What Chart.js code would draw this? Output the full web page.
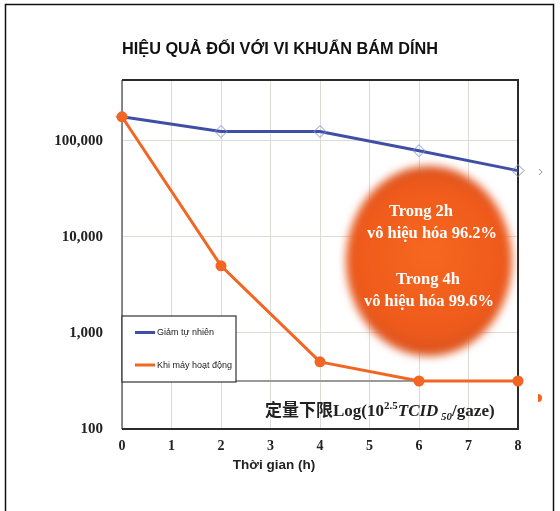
<!DOCTYPE html>
<html>
<head>
<meta charset="utf-8">
<script src="https://cdn.jsdelivr.net/npm/chart.js@4/dist/chart.umd.min.js"></script>
<style>
  html, body { margin: 0; padding: 0; background: #fff; }
  #wrap { width: 560px; height: 511px; position: relative; }
</style>
</head>
<body>
<div id="wrap"><canvas id="graphique"></canvas></div>
<script>
const hours = [0, 2, 4, 6, 8];
const giamTuNhien = [178000, 125000, 125000, 79000, 49000];
const khiMayHoatDong = [178000, 5000, 500, 316, 316];
const limitX = [0, 8];
const limitY = [316, 316];
const yTicks = [100, 1000, 10000, 100000];
const seriesLabels = ["Giảm tự nhiên", "Khi máy hoạt động"];
const titre = "HIỆU QUẢ ĐỐI VỚI VI KHUẨN BÁM DÍNH";
const bulle = ["Trong 2h", "vô hiệu hóa 96.2%", "", "Trong 4h", "vô hiệu hóa 99.6%"];

const BLEU = "#3f4fa6";
const ORANGE = "#f26522";
const serif = "'Liberation Serif', 'DejaVu Serif', serif";
const sans = "'Liberation Sans', Arial, sans-serif";

const toPoints = (xs, ys) => xs.map((x, i) => ({ x: x, y: ys[i] }));

const decor = {
  id: "decor",
  beforeDatasetsDraw(chart) {
    const { ctx, chartArea: a } = chart;
    ctx.save();
    // cadre du graphique
    ctx.lineWidth = 1.5;
    ctx.strokeStyle = "#666";
    ctx.beginPath(); ctx.moveTo(a.left, a.top); ctx.lineTo(a.left, a.bottom); ctx.stroke();
    ctx.lineWidth = 2;
    ctx.strokeStyle = "#2a2a2a";
    ctx.beginPath();
    ctx.moveTo(a.left, a.top); ctx.lineTo(a.right, a.top);
    ctx.lineTo(a.right, a.bottom); ctx.lineTo(a.left, a.bottom);
    ctx.stroke();
    ctx.restore();
  },
  afterDatasetsDraw(chart) {
    const { ctx, chartArea: a } = chart;
    ctx.save();

    // titre
    ctx.fillStyle = "#111";
    ctx.font = "bold 16.3px " + sans;
    ctx.textBaseline = "middle";
    ctx.textAlign = "left";
    ctx.fillText(titre, a.left, 50);

    // bulle orange
    const cx = 429, cy = 261, rx = 83, ry = 95;
    ctx.save();
    ctx.filter = "blur(4px)";
    const g = ctx.createRadialGradient(cx, cy - 10, 10, cx, cy, ry);
    g.addColorStop(0, "#f5661f");
    g.addColorStop(0.75, "#ef5a1b");
    g.addColorStop(1, "#d9531f");
    ctx.fillStyle = g;
    ctx.beginPath();
    ctx.ellipse(cx, cy, rx, ry, 0, 0, Math.PI * 2);
    ctx.fill();
    ctx.restore();

    ctx.fillStyle = "#fff";
    ctx.font = "bold 16.5px " + serif;
    ctx.textAlign = "center";
    const lignesY = [212, 234, 0, 280, 302];
    const lignesX = [421, 432, 0, 428, 429];
    bulle.forEach((t, i) => {
      if (t) ctx.fillText(t, lignesX[i], lignesY[i]);
    });

    // légende
    const lx = a.left, ly = 316, lw = 114, lh = 66;
    ctx.fillStyle = "#fff";
    ctx.fillRect(lx, ly, lw, lh);
    ctx.strokeStyle = "#333";
    ctx.lineWidth = 1.2;
    ctx.strokeRect(lx, ly, lw, lh);
    const couleurs = [BLEU, ORANGE];
    const posY = [332.5, 365];
    ctx.font = "9px " + sans;
    ctx.textAlign = "left";
    seriesLabels.forEach((lab, i) => {
      ctx.strokeStyle = couleurs[i];
      ctx.lineWidth = 3;
      ctx.beginPath(); ctx.moveTo(lx + 13, posY[i]); ctx.lineTo(lx + 33, posY[i]); ctx.stroke();
      ctx.fillStyle = "#222";
      ctx.fillText(lab, lx + 35, posY[i] + 0.5);
    });

    // limite de quantification
    let x = 265;
    const base = 416;
    ctx.fillStyle = "#222";
    ctx.textBaseline = "alphabetic";
    const morceau = (txt, font, dy) => {
      ctx.font = font;
      ctx.fillText(txt, x, base + dy);
      x += ctx.measureText(txt).width;
    };
    morceau("定量下限", "bold 17px 'Noto Sans CJK SC'", 0);
    morceau("Log(10", "bold 17px " + serif, 0);
    morceau("2.5", "bold 11px " + serif, -7);
    morceau("TCID", "italic bold 17px " + serif, 0);
    morceau(" 50", "italic bold 11px " + serif, 4);
    morceau("/gaze)", "bold 17px " + serif, 0);

    // titre de l'axe x
    ctx.font = "bold 13.5px " + sans;
    ctx.textAlign = "center";
    ctx.textBaseline = "middle";
    ctx.fillText("Thời gian (h)", 274, 465);

    // bouts de marqueurs coupés à droite
    ctx.strokeStyle = "#8594cc";
    ctx.lineWidth = 1;
    ctx.beginPath(); ctx.moveTo(539, 169); ctx.lineTo(542, 172); ctx.lineTo(539, 175); ctx.stroke();
    ctx.fillStyle = ORANGE;
    ctx.beginPath(); ctx.arc(538, 398, 4, -Math.PI / 2, Math.PI / 2); ctx.fill();

    // cadre extérieur
    ctx.strokeStyle = "#111";
    ctx.lineWidth = 1.5;
    ctx.strokeRect(5.5, 4.5, 548, 530);
    ctx.restore();
  }
};

const data = {
  datasets: [
    {
      label: seriesLabels[1],
      data: toPoints(hours, khiMayHoatDong),
      borderColor: ORANGE,
      borderWidth: 3,
      pointRadius: 5.5,
      pointBackgroundColor: ORANGE,
      pointBorderColor: ORANGE,
      pointBorderWidth: 0,
      clip: false,
      order: 0,
    },
    {
      label: seriesLabels[0],
      data: toPoints(hours, giamTuNhien),
      borderColor: BLEU,
      borderWidth: 3,
      pointStyle: "rectRot",
      pointRadius: 6,
      pointBackgroundColor: "rgba(255,255,255,0)",
      pointBorderColor: "#8594cc",
      pointBorderWidth: 1,
      clip: false,
      order: 1,
    },
    {
      label: "limite",
      data: toPoints(limitX, limitY),
      borderColor: "#9a9a9a",
      borderWidth: 2,
      pointRadius: 0,
      order: 2,
    },
  ],
};

const config = {
  type: "line",
  data: data,
  plugins: [decor],
  options: {
    responsive: true,
    maintainAspectRatio: false,
    animation: false,
    layout: { padding: { top: 80, right: 42, left: 0, bottom: 0 } },
    plugins: { legend: { display: false }, tooltip: { enabled: false } },
    scales: {
      x: {
        type: "linear",
        min: 0,
        max: 8,
        ticks: { stepSize: 1, color: "#222", padding: 9, font: { family: serif, size: 14, weight: "bold" } },
        grid: { color: "#dcdcd6", drawTicks: false },
        border: { display: false },
        afterFit: (s) => { s.height = 82; },
      },
      y: {
        type: "logarithmic",
        min: 100,
        max: 430000,
        afterBuildTicks: (axis) => { axis.ticks = yTicks.map((v) => ({ value: v })); },
        ticks: {
          color: "#222",
          padding: 19,
          font: { family: serif, size: 15, weight: "bold" },
          callback: (v) => Number(v).toLocaleString("en-US"),
        },
        grid: { color: "#dcdcd6", drawTicks: false },
        border: { display: false },
        afterFit: (s) => { s.width = 122; },
      },
    },
  },
};

new Chart(document.querySelector("#graphique"), config);
</script>
</body>
</html>
